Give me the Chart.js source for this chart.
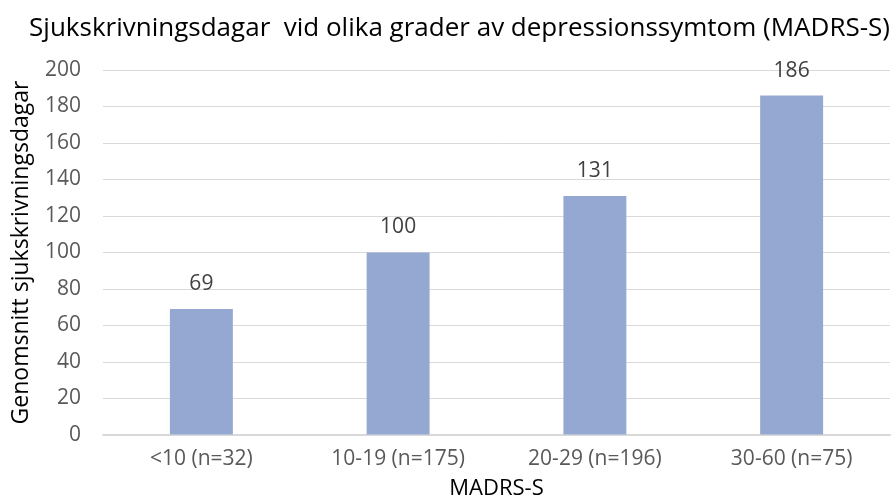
<!DOCTYPE html>
<html>
<head>
<meta charset="utf-8">
<script src="https://cdn.jsdelivr.net/npm/chart.js@4.4.0/dist/chart.umd.min.js"></script>
<style>
  html, body { margin: 0; padding: 0; background: #fff; }
  #chart { display: block; }
</style>
</head>
<body>
<canvas id="chart" width="891" height="500"></canvas>
<script>
// Data
const categories = ['<10 (n=32)', '10-19 (n=175)', '20-29 (n=196)', '30-60 (n=75)'];
const sickDays = [69, 100, 131, 186];

const FONT = "'Open Sans', sans-serif";

// Etiketter ovanför staplarna
const barLabels = {
    id: 'barLabels',
    afterDatasetsDraw(chart) {
        const ctx = chart.ctx;
        const meta = chart.getDatasetMeta(0);
        ctx.save();
        ctx.font = `21px ${FONT}`;
        ctx.fillStyle = '#404040';
        ctx.textAlign = 'center';
        ctx.textBaseline = 'middle';
        meta.data.forEach((bar, i) => {
            ctx.fillText(String(sickDays[i]), bar.x, bar.y - 25);
        });
        ctx.restore();
    }
};

new Chart(document.getElementById('chart'), {
    type: 'bar',
    data: {
        labels: categories,
        datasets: [{
            label: 'Genomsnitt sjukskrivningsdagar',
            data: sickDays,
            backgroundColor: '#95a8d2',
            barPercentage: 0.32,
            categoryPercentage: 1
        }]
    },
    options: {
        responsive: false,
        animation: false,
        layout: { padding: { left: 0, right: 1, top: 0, bottom: 0 } },
        plugins: {
            legend: { display: false },
            tooltip: { enabled: false },
            title: {
                display: true,
                text: 'Sjukskrivningsdagar  vid olika grader av depressionssymtom (MADRS-S)',
                align: 'end',
                color: '#000',
                font: { family: FONT, size: 26, weight: 'normal', lineHeight: 1.2 },
                padding: { top: 13.4, bottom: 25.4 }
            }
        },
        scales: {
            x: {
                afterFit: (scale) => { scale.height = 65; },
                grid: { display: false, drawTicks: false },
                border: { color: '#d9d9d9', width: 1.5 },
                ticks: { color: '#595959', font: { family: FONT, size: 21 }, padding: 11 },
                title: {
                    display: true,
                    text: 'MADRS-S',
                    color: '#000',
                    font: { family: FONT, size: 22, lineHeight: 1 },
                    padding: { top: 0, bottom: 0 }
                }
            },
            y: {
                min: 0,
                max: 200,
                afterFit: (scale) => { scale.width = 103; },
                grid: { color: '#d9d9d9', drawTicks: false },
                border: { display: false },
                ticks: { stepSize: 20, color: '#595959', font: { family: FONT, size: 21 }, padding: 22 },
                title: {
                    display: true,
                    text: 'Genomsnitt sjukskrivningsdagar',
                    color: '#000',
                    font: { family: FONT, size: 23 },
                    padding: { top: 8, bottom: 0 }
                }
            }
        }
    },
    plugins: [barLabels]
});
</script>
</body>
</html>
